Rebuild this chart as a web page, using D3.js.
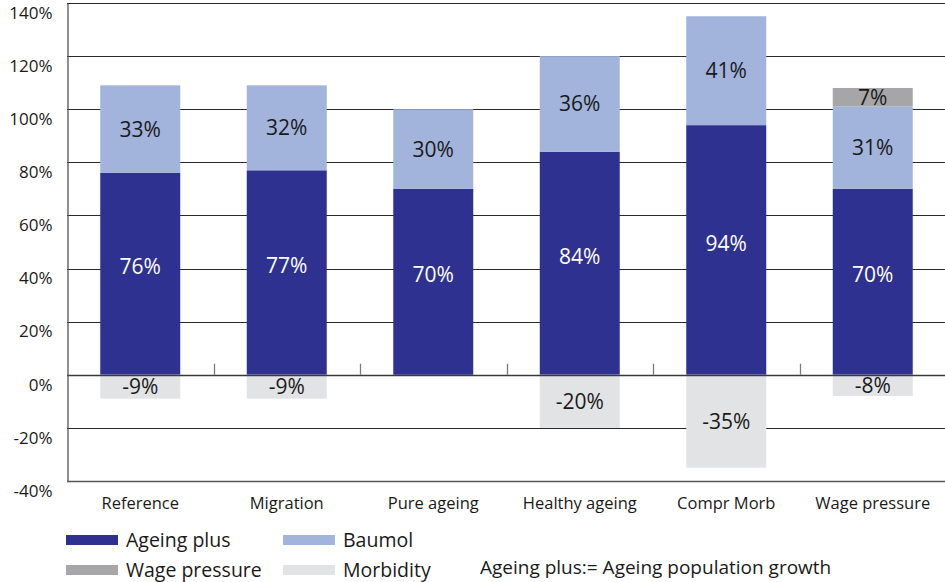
<!DOCTYPE html>
<html>
<head>
<meta charset="utf-8">
<script src="https://cdn.jsdelivr.net/npm/d3@7"></script>
<style>
  html, body { margin: 0; padding: 0; background: #fff; }
  svg { display: block; font-family: "Open Sans", "Noto Sans", sans-serif; }
</style>
</head>
<body>
<svg id="chart" width="945" height="582"></svg>
<script>
// Scenario categories along the x axis
const categories = ["Reference", "Migration", "Pure ageing", "Healthy ageing", "Compr Morb", "Wage pressure"];

// Series values (percent)
const ageingPlus   = [76, 77, 70, 84, 94, 70];
const baumol       = [33, 32, 30, 36, 41, 31];
const wagePressure = [0, 0, 0, 0, 0, 7];
const morbidity    = [-9, -9, 0, -20, -35, -8];

// Y axis ticks
const yTicks = [-40, -20, 0, 20, 40, 60, 80, 100, 120, 140];

const seriesNames  = ["Ageing plus", "Baumol", "Wage pressure", "Morbidity"];
const seriesColors = ["#2e3190", "#a2b3dc", "#a6a6a8", "#e2e3e5"];
const labelColors  = ["#ffffff", "#1a1a1a", "#1a1a1a", "#1a1a1a"];
// Labels in the tall dark segments sit a little above the middle
const labelShift   = [-7, 0, 0, 0];

const svg = d3.select("#chart");
const plot = { left: 67, right: 946, top: 3, bottom: 481 };

const x = d3.scaleBand().domain(categories).range([plot.left, plot.right]).paddingInner(0.454).paddingOuter(0.227);
const xOuter = d3.scaleBand().domain(categories).range([plot.left, plot.right]);
const y = d3.scaleLinear().domain([-40, 140]).range([plot.bottom, plot.top]);

// Gridlines
svg.append("g").selectAll("line").data(yTicks).join("line")
  .attr("x1", plot.left).attr("x2", 945)
  .attr("y1", d => Math.round(y(d)) + 0.5).attr("y2", d => Math.round(y(d)) + 0.5)
  .attr("stroke", "#2a2a2a").attr("stroke-width", 1.2);

// Stacked bars: positive segments stack upward from zero, morbidity goes down
const rows = categories.map((c, i) => {
  const segs = [];
  let base = 0;
  [ageingPlus[i], baumol[i], wagePressure[i]].forEach((v, k) => {
    if (v > 0) { segs.push({ c, k, v, y0: base, y1: base + v }); base += v; }
  });
  if (morbidity[i] < 0) segs.push({ c, k: 3, v: morbidity[i], y0: morbidity[i], y1: 0 });
  return segs;
}).flat();

const bars = svg.append("g");
bars.selectAll("rect").data(rows).join("rect")
  .attr("x", d => x(d.c))
  .attr("width", x.bandwidth())
  .attr("y", d => y(d.y1))
  .attr("height", d => y(d.y0) - y(d.y1))
  .attr("fill", d => seriesColors[d.k]);

// Zero line over the bars
svg.append("line")
  .attr("x1", plot.left).attr("x2", 945)
  .attr("y1", Math.round(y(0)) + 0.5).attr("y2", Math.round(y(0)) + 0.5)
  .attr("stroke", "#3a3a3a").attr("stroke-width", 1.3);

// Category separators on the zero line
svg.append("g").selectAll("line").data(categories.slice(1)).join("line")
  .attr("x1", d => Math.round(xOuter(d)) + 0.5).attr("x2", d => Math.round(xOuter(d)) + 0.5)
  .attr("y1", y(0) - 11).attr("y2", y(0))
  .attr("stroke", "#7a7a7a").attr("stroke-width", 1.3);

// Value labels
bars.selectAll("text").data(rows).join("text")
  .attr("x", d => x(d.c) + x.bandwidth() / 2)
  .attr("y", d => (y(d.y0) + y(d.y1)) / 2 + labelShift[d.k])
  .attr("dy", "0.36em")
  .attr("text-anchor", "middle")
  .attr("font-size", 21)
  .attr("fill", d => labelColors[d.k])
  .text(d => d.v + "%");

// Y axis (labels hang just below their gridlines)
const yAxis = d3.axisLeft(y).tickValues(yTicks).tickSize(0).tickPadding(15).tickFormat(d => d + "%");
const gy = svg.append("g").attr("transform", `translate(${plot.left + 0.5},0)`).call(yAxis);
gy.select(".domain").attr("stroke", "#555").attr("stroke-width", 1.3);
gy.selectAll("text").attr("font-size", 17).attr("fill", "#1a1a1a")
  .attr("font-family", "'Open Sans', sans-serif").attr("dy", "0.9em");

// Bottom frame line at the axis minimum
svg.append("line")
  .attr("x1", plot.left).attr("x2", 945)
  .attr("y1", Math.round(y(-40)) + 0.5).attr("y2", Math.round(y(-40)) + 0.5)
  .attr("stroke", "#555").attr("stroke-width", 1.3);

// Category labels
const xAxis = d3.axisBottom(xOuter).tickSize(0).tickPadding(16);
const gx = svg.append("g").attr("transform", `translate(0,${y(-40)})`).call(xAxis);
gx.select(".domain").remove();
gx.selectAll("text").attr("font-size", 16.5).attr("fill", "#1a1a1a").attr("font-family", "'Open Sans', sans-serif");

// Legend
const legendItems = [
  { name: seriesNames[0], color: seriesColors[0], x: 66, y: 540 },
  { name: seriesNames[1], color: seriesColors[1], x: 283, y: 540 },
  { name: seriesNames[2], color: seriesColors[2], x: 66, y: 570 },
  { name: seriesNames[3], color: seriesColors[3], x: 283, y: 570 }
];
const lg = svg.append("g").selectAll("g").data(legendItems).join("g")
  .attr("transform", d => `translate(${d.x},${d.y})`);
lg.append("rect").attr("x", 0).attr("y", -5).attr("width", 52).attr("height", 10).attr("fill", d => d.color);
lg.append("text").attr("x", 60).attr("y", 0).attr("dy", "0.35em")
  .attr("font-size", 19.5).attr("fill", "#1a1a1a").text(d => d.name);

svg.append("text").attr("x", 480).attr("y", 567).attr("dy", "0.35em")
  .attr("font-size", 19).attr("fill", "#1a1a1a")
  .text("Ageing plus:= Ageing population growth");
</script>
</body>
</html>
